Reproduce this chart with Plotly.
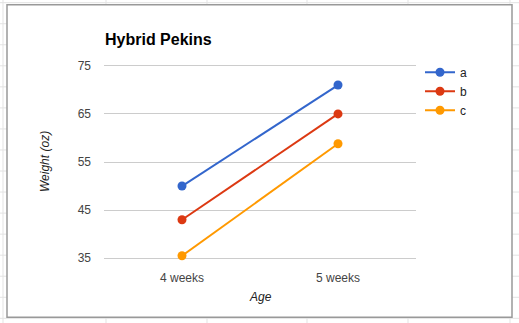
import plotly.graph_objects as go

# ---- data ----
categories = ["4 weeks", "5 weeks"]
series_names = ["a", "b", "c"]
a_values = [50, 71]
b_values = [43, 65]
c_values = [35.5, 58.8]
y_ticks = [35, 45, 55, 65, 75]

colors = ["#3366cc", "#dc3912", "#ff9900"]

W, H = 519, 323
L, R = 104, 416
# pixel positions of y=75 and y=35
Y75, Y35 = 66, 258
pad_units = 1.0
ppu = (Y35 - Y75) / 40.0
T = Y75 - pad_units * ppu
B = Y35 + pad_units * ppu


def px(x):
    return (x - L) / (R - L)


def py(y):
    return (B - y) / (B - T)


FONT = "Arial, 'Liberation Sans', sans-serif"

fig = go.Figure()
for name, vals, col in zip(series_names, [a_values, b_values, c_values], colors):
    fig.add_trace(go.Scatter(
        x=categories, y=vals, name=name, mode="lines+markers",
        line=dict(color=col, width=2),
        marker=dict(color=col, size=9),
    ))

shapes = []
grid_col = "#e3e3e3"
# spreadsheet grid behind the chart box
for yy in range(3, 323, 21):
    shapes.append(dict(type="line", xref="paper", yref="paper",
                       x0=px(0), x1=px(W), y0=py(yy), y1=py(yy),
                       line=dict(color=grid_col, width=1), layer="below"))
for xx in [3, 106, 207, 307, 408, 510]:
    shapes.append(dict(type="line", xref="paper", yref="paper",
                       x0=px(xx), x1=px(xx), y0=py(0), y1=py(H),
                       line=dict(color=grid_col, width=1), layer="below"))
# chart box
shapes.append(dict(type="rect", xref="paper", yref="paper",
                   x0=px(7), x1=px(512), y0=py(5), y1=py(317),
                   fillcolor="white", line=dict(color="#999999", width=1.5),
                   layer="below"))

annotations = [
    dict(text="<b>Hybrid Pekins</b>", xref="paper", yref="paper",
         x=px(103), y=py(40), xanchor="left", yanchor="middle",
         showarrow=False, font=dict(family=FONT, size=16, color="#000000")),
    dict(text="<i>Weight (oz)</i>", xref="paper", yref="paper",
         x=px(45), y=py(162), xanchor="center", yanchor="middle",
         textangle=-90, showarrow=False,
         font=dict(family=FONT, size=12, color="#222222")),
    dict(text="<i>Age</i>", xref="paper", yref="paper",
         x=px(260), y=py(297), xanchor="center", yanchor="middle",
         showarrow=False, font=dict(family=FONT, size=12, color="#222222")),
]

fig.update_layout(
    width=W, height=H,
    margin=dict(l=L, r=W - R, t=T, b=H - B, pad=0),
    paper_bgcolor="white",
    plot_bgcolor="rgba(0,0,0,0)",
    font=dict(family=FONT, size=12, color="#444444"),
    shapes=shapes,
    annotations=annotations,
    showlegend=True,
    legend=dict(x=px(420), y=py(58), xanchor="left", yanchor="top",
                bgcolor="rgba(0,0,0,0)",
                font=dict(family=FONT, size=12, color="#222222"),
                tracegroupgap=0),
    xaxis=dict(type="category", range=[-0.5, 1.5], showgrid=False,
               showline=False, zeroline=False, ticks="",
               tickfont=dict(family=FONT, size=12, color="#444444"),
               ticklabelstandoff=6, fixedrange=True),
    yaxis=dict(range=[35 - pad_units, 75 + pad_units], tickvals=y_ticks,
               showgrid=True, gridcolor="#cccccc", gridwidth=1,
               zeroline=False, showline=False, ticks="",
               tickfont=dict(family=FONT, size=12, color="#444444"),
               ticklabelstandoff=12, fixedrange=True),
)

fig.write_html("out.html")
